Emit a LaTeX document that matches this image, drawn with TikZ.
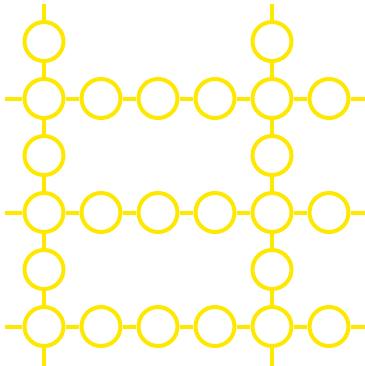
\documentclass[tikz,border=0pt]{standalone}
\usepackage{xcolor}
\usepackage{tikz}
\definecolor{gridyellow}{RGB}{255,232,0}

\begin{document}
\begin{tikzpicture}[x=0.01cm,y=-0.01cm,
    link/.style={draw=gridyellow,line width=0.04cm},
    ring/.style={circle,draw=gridyellow,line width=0.04cm,fill=white,
      inner sep=0pt,minimum size=0.39cm}]
  \useasboundingbox (0,0) rectangle (365,366);
  \def\gap{57}
  % rings on the two upright lines
  \foreach \c in {1,5}{
    \foreach \r in {1,...,6}{
      \node[ring] (c\c r\r) at ({44+(\c-1)*\gap},{41.5+(\r-1)*\gap}) {};}}
  % rings on the three cross lines
  \foreach \r in {2,4,6}{
    \foreach \c in {2,3,4,6}{
      \node[ring] (c\c r\r) at ({44+(\c-1)*\gap},{41.5+(\r-1)*\gap}) {};}}
  % free ends
  \foreach \c in {1,5}{
    \coordinate (top\c) at ({44+(\c-1)*\gap},4);
    \coordinate (bot\c) at ({44+(\c-1)*\gap},366);}
  \foreach \r in {2,4,6}{
    \coordinate (lft\r) at (5,{41.5+(\r-1)*\gap});
    \coordinate (rgt\r) at (365,{41.5+(\r-1)*\gap});}
  % upright links
  \foreach \c in {1,5}{
    \draw[link] (top\c) -- (c\c r1);
    \foreach \r [evaluate=\r as \n using int(\r+1)] in {1,...,5}
      {\draw[link] (c\c r\r) -- (c\c r\n);}
    \draw[link] (c\c r6) -- (bot\c);}
  % cross links
  \foreach \r in {2,4,6}{
    \draw[link] (lft\r) -- (c1r\r);
    \foreach \c [evaluate=\c as \n using int(\c+1)] in {1,...,5}
      {\draw[link] (c\c r\r) -- (c\n r\r);}
    \draw[link] (c6r\r) -- (rgt\r);}
\end{tikzpicture}
\end{document}
